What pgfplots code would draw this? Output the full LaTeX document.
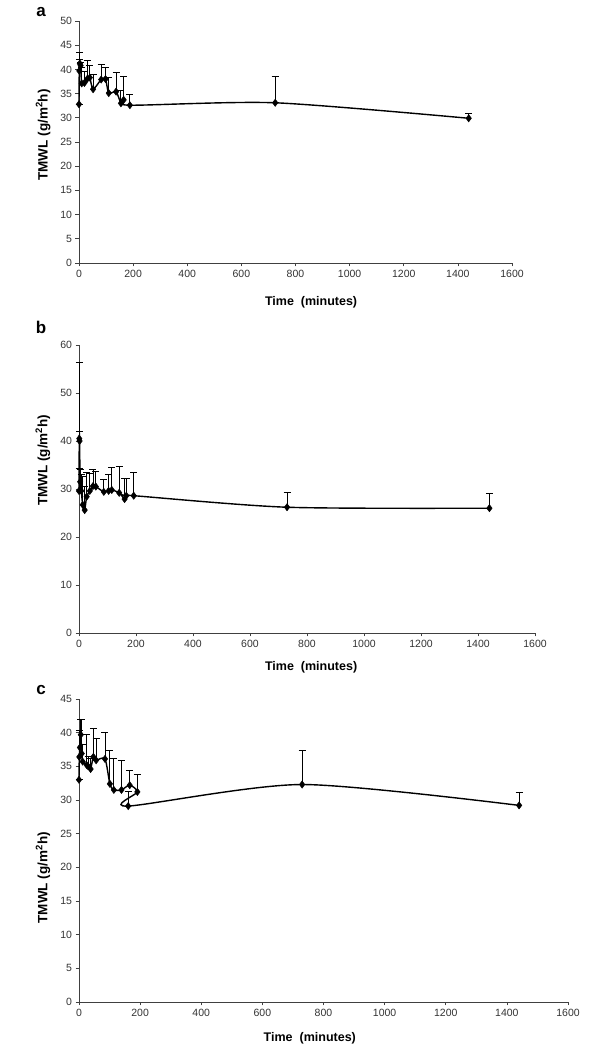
\documentclass[border=0pt]{standalone}
\usepackage{fontspec}
\setmainfont{Liberation Sans}
\usepackage{pgfplots}
\usepackage{pgfplotstable}
\pgfplotsset{compat=1.18}

\pgfplotstableread{
t v e
0 32.8 0
1 39.7 2.4
3 41.2 2.2
6 40.8 0.7
10 37.1 3.4
20 37.2 2.3
30 38.0 3.9
40 38.3 2.6
52 35.9 3.0
82 37.9 3.2
98 38.0 2.4
110 35.1 3.2
137 35.4 4.0
155 33.0 2.6
165 33.7 4.9
188 32.6 2.3
725 33.1 5.4
1440 29.9 1.0
}\dataA

\pgfplotstableread{
t v e
0 29.6 4.6
1 40.5 15.9
2 40.0 1.9
4 31.5 2.6
8 29.6 3.4
13 26.7 6.0
20 25.6 4.9
27 28.4 5.1
38 29.6 3.6
49 30.6 3.5
59 30.5 3.2
87 29.4 2.5
104 29.6 3.4
115 29.8 4.6
141 29.2 5.5
160 27.9 4.3
166 28.6 3.6
192 28.6 4.8
730 26.2 3.1
1440 26.0 3.0
}\dataB

\pgfplotstableread{
t v e
0 33.0 0
1 36.4 4.0
3 37.8 2.5
6 39.7 2.2
9 36.9 5.0
12 35.7 2.5
25 35.2 4.5
30 35.0 1.5
38 34.6 1.5
47 36.4 4.2
56 35.9 3.3
85 36.1 4.0
101 32.4 5.0
114 31.5 4.6
139 31.5 4.4
166 32.2 2.2
191 31.2 2.6
161 29.1 2.1
730 32.3 5.0
1440 29.2 1.9
}\dataC

\pgfplotsset{
  myaxis/.style={
    scale only axis,
    anchor=south west,
    xmin=0, xmax=1600, ymin=0,
    xtick={0,200,...,1600},
    axis x line*=bottom, axis y line*=left,
    axis line style={-, draw=black!75, line width=0.8pt},
    tick align=outside,
    major tick length=3.5pt,
    tick style={black!75, line width=0.6pt},
    tick label style={font=\fontsize{10.5}{12}\selectfont, text=black!80},
    /pgf/number format/assume math mode=true,
    /pgf/number format/1000 sep={},
    xlabel={\textbf{Time\ \ (minutes)}},
    ylabel={\textbf{TMWL (g/m\textsuperscript{2}h)}},
    every axis y label/.style={rotate=90, anchor=center, font=\fontsize{13.5}{15}\selectfont},
    every axis x label/.style={anchor=center, font=\fontsize{12.5}{14}\selectfont},
    clip=false,
  },
  myplot/.style={
    black, line width=1.4pt, smooth, tension=0.45,
    mark=diamond*, mark size=3.6pt, mark options={solid, fill=black, line width=0.5pt},
    error bars/.cd, y dir=plus, y explicit,
    error bar style={black, line width=0.9pt},
    error mark options={black, mark size=3.5pt, line width=0.9pt, rotate=90},
  },
}

\begin{document}
\begin{tikzpicture}
\path[use as bounding box] (0,0) rectangle (589pt,1048pt);

% panel a
\begin{axis}[myaxis,
  at={(79pt,785pt)}, width=433pt, height=242pt,
  ymax=50, ytick={0,5,...,50},
  x label style={at={(axis description cs:0.536,-0.161)}},
  y label style={at={(axis description cs:-0.083,0.529)}},
]
\addplot+[myplot] table[x=t, y=v, y error plus=e] {\dataA};
\end{axis}
\node[font=\fontsize{17}{20}\selectfont\bfseries] at (41pt,1036pt) {a};

% panel b
\begin{axis}[myaxis,
  at={(79pt,415pt)}, width=456pt, height=288pt,
  ymax=60, ytick={0,10,...,60},
  x label style={at={(axis description cs:0.509,-0.12)}},
  y label style={at={(axis description cs:-0.079,0.60)}},
]
\addplot+[myplot] table[x=t, y=v, y error plus=e] {\dataB};
\end{axis}
\node[font=\fontsize{17}{20}\selectfont\bfseries] at (41pt,721pt) {b};

% panel c
\begin{axis}[myaxis,
  at={(79pt,46pt)}, width=489pt, height=303pt,
  ymax=45, ytick={0,5,...,45},
  x label style={at={(axis description cs:0.472,-0.119)}},
  y label style={at={(axis description cs:-0.0736,0.41)}},
]
\addplot+[myplot] table[x=t, y=v, y error plus=e] {\dataC};
\end{axis}
\node[font=\fontsize{17}{20}\selectfont\bfseries] at (41pt,358pt) {c};
\end{tikzpicture}
\end{document}
